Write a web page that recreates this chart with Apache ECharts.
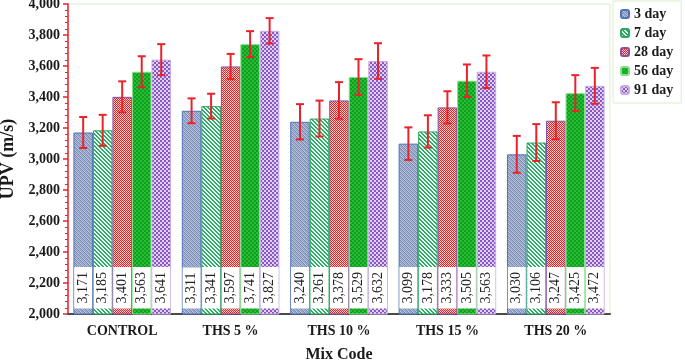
<!DOCTYPE html>
<html>
<head>
<meta charset="utf-8">
<script src="https://cdn.jsdelivr.net/npm/echarts@6/dist/echarts.min.js"></script>
<style>
  html, body { margin: 0; padding: 0; background: #fff; }
  #chart { width: 685px; height: 361px; }
</style>
</head>
<body>
<div id="chart"></div>
<script>
  // data
  var mixCodes = ['CONTROL', 'THS 5 %', 'THS 10 %', 'THS 15 %', 'THS 20 %'];
  var ageNames = ['3 day', '7 day', '28 day', '56 day', '91 day'];
  var upv3 = [3171, 3311, 3240, 3099, 3030];
  var upv7 = [3185, 3341, 3261, 3178, 3106];
  var upv28 = [3401, 3597, 3378, 3333, 3247];
  var upv56 = [3563, 3741, 3529, 3505, 3425];
  var upv91 = [3641, 3827, 3632, 3563, 3472];
  // error bar half-heights (estimated)
  var err3 = [100, 80, 114, 105, 119];
  var err7 = [100, 80, 116, 104, 119];
  var err28 = [100, 81, 118, 104, 119];
  var err56 = [100, 84, 115, 105, 116];
  var err91 = [100, 82, 115, 105, 116];

  var values = [upv3, upv7, upv28, upv56, upv91];
  var errors = [err3, err7, err28, err56, err91];

  function pattern(size, fn) {
    var c = document.createElement('canvas');
    c.width = size; c.height = size;
    var ctx = c.getContext('2d');
    for (var y = 0; y < size; y++) {
      for (var x = 0; x < size; x++) {
        ctx.fillStyle = fn(x, y);
        ctx.fillRect(x, y, 1, 1);
      }
    }
    return { image: c, repeat: 'repeat' };
  }

  var fills = [
    pattern(4, function (x, y) {
      var k = (x * 3 + y * 5) % 4;
      return ['#7288bb', '#a3b0cc', '#8e9dc2', '#c0c8da'][k];
    }),
    pattern(4, function (x, y) {
      return (((x - y) % 4 + 4) % 4) < 2 ? '#2aae68' : '#f2fbf5';
    }),
    pattern(2, function (x, y) {
      return (x + y) % 2 === 0 ? '#f01c1c' : '#fbd2d2';
    }),
    pattern(4, function (x, y) {
      return ((Math.floor(x / 2) + Math.floor(y / 2)) % 2 === 0) ? '#21c132' : '#179a24';
    }),
    pattern(4, function (x, y) {
      return ((Math.floor(x / 2) + Math.floor(y / 2)) % 2 === 0) ? '#8a58c2' : '#dfd0f2';
    })
  ];
  var borders = ['#4f72b8', '#2aa862', '#8a4f9e', '#86e08a', '#c6ade6'];

  var gapPct = 10;
  var serif = 'Liberation Serif';

  function fmt(v) {
    return Number(v).toLocaleString('en-US');
  }

  var series = [];
  for (var i = 0; i < 5; i++) {
    series.push({
      name: ageNames[i],
      type: 'bar',
      barGap: 0,
      barCategoryGap: gapPct + '%',
      data: values[i],
      itemStyle: {
        color: fills[i],
        borderColor: borders[i],
        borderWidth: 1
      },
      label: {
        show: true,
        position: 'insideBottom',
        distance: 6,
        rotate: 90,
        align: 'left',
        verticalAlign: 'middle',
        backgroundColor: '#fff',
        padding: [0, 5],
        lineHeight: 18,
        fontFamily: serif,
        fontSize: 14,
        color: '#222',
        formatter: function (p) { return fmt(p.value); }
      }
    });
  }

  // error bars
  var errData = [];
  for (var s = 0; s < 5; s++) {
    for (var c = 0; c < mixCodes.length; c++) {
      errData.push([c, values[s][c], errors[s][c], s]);
    }
  }
  series.push({
    type: 'custom',
    silent: true,
    z: 10,
    encode: { x: 0, y: 1 },
    data: errData,
    renderItem: function (params, api) {
      var ci = api.value(0), v = api.value(1), e = api.value(2), si = api.value(3);
      var band = api.size([1, 0])[0];
      var bw = band * (1 - gapPct / 100) / 5;
      var cx = api.coord([ci, v])[0] + (si - 2) * bw;
      var yt = api.coord([ci, v + e])[1];
      var yb = api.coord([ci, v - e])[1];
      var st = { stroke: '#e8232b', lineWidth: 2 };
      return {
        type: 'group',
        children: [
          { type: 'line', shape: { x1: cx, y1: yt, x2: cx, y2: yb }, style: st },
          { type: 'line', shape: { x1: cx - 4, y1: yt, x2: cx + 4, y2: yt }, style: st },
          { type: 'line', shape: { x1: cx - 4, y1: yb, x2: cx + 4, y2: yb }, style: st }
        ]
      };
    }
  });

  var myChart = echarts.init(document.getElementById('chart'));
  myChart.setOption({
    animation: false,
    textStyle: { fontFamily: serif },
    grid: {
      left: 68,
      right: 75,
      top: 4,
      bottom: 47,
      outerBoundsMode: 'none',
      containLabel: false,
      show: true,
      borderColor: '#dceccf',
      borderWidth: 1
    },
    legend: {
      data: ageNames,
      orient: 'vertical',
      left: 613,
      top: 1,
      padding: [6, 8, 6, 7],
      itemGap: 5,
      itemWidth: 8,
      itemHeight: 8,
      borderColor: '#dceccf',
      borderWidth: 1,
      textStyle: { fontFamily: serif, fontWeight: 'bold', fontSize: 14, color: '#1a1a1a' }
    },
    xAxis: {
      type: 'category',
      data: mixCodes,
      name: 'Mix Code',
      nameLocation: 'middle',
      nameGap: 33,
      nameTextStyle: { fontFamily: serif, fontWeight: 'bold', fontSize: 16, color: '#1a1a1a' },
      axisLine: { lineStyle: { color: '#4a4a4a', width: 2 } },
      axisTick: { show: false },
      axisLabel: { fontFamily: serif, fontWeight: 'bold', fontSize: 14, color: '#1a1a1a', margin: 10 }
    },
    yAxis: {
      type: 'value',
      min: 2000,
      max: 4000,
      interval: 200,
      name: 'UPV (m/s)',
      nameLocation: 'middle',
      nameGap: 47,
      nameTextStyle: { fontFamily: serif, fontWeight: 'bold', fontSize: 18, color: '#1a1a1a' },
      axisLine: { show: true, lineStyle: { color: '#e8232b', width: 1.5 } },
      axisTick: { show: true, length: 5, lineStyle: { color: '#e8232b', width: 1.5 } },
      minorTick: { show: true, splitNumber: 5, length: 3, lineStyle: { color: '#e8232b', width: 1 } },
      splitLine: { show: false },
      axisLabel: {
        fontFamily: serif, fontWeight: 'bold', fontSize: 14, color: '#1a1a1a', margin: 8,
        formatter: function (v) { return fmt(v); }
      }
    },
    series: series
  });
</script>
</body>
</html>
